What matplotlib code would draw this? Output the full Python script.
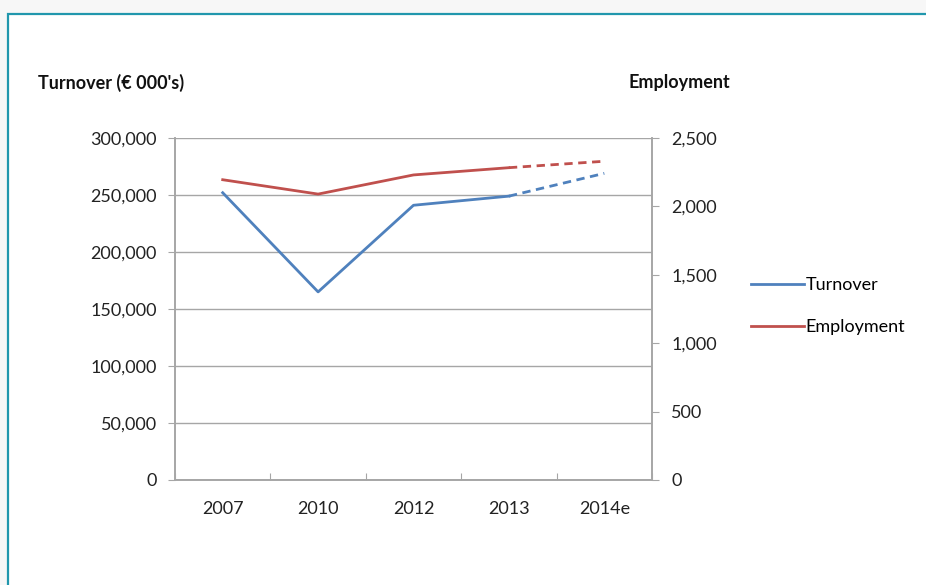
import matplotlib.pyplot as plt
from matplotlib.patches import Rectangle
from matplotlib.lines import Line2D
import numpy as np

years = ["2007", "2010", "2012", "2013", "2014e"]
turnover = [252000, 165000, 241000, 249000, 269000]
employment = [2195, 2090, 2230, 2283, 2330]

BLUE = "#4F81BD"
RED = "#C0504D"
GRID = "#A6A6A6"
FS = 13

plt.rcParams['font.family'] = ['Lato', 'DejaVu Sans']

fig = plt.figure(figsize=(9.26, 5.85), dpi=100)
fig.patch.set_facecolor("#f7f7f7")

# white panel with teal frame
panel = Rectangle((8 / 926, -0.1), 1.1, (585 - 14) / 585 + 0.1, transform=fig.transFigure,
                  facecolor="white", edgecolor="#2197ad", linewidth=1.6, zorder=-5)
fig.patches.append(panel)

ax = fig.add_axes([175 / 926, 105 / 585, 477 / 926, 342 / 585])
ax2 = ax.twinx()
ax.set_facecolor("none")
ax2.set_facecolor("none")

x = np.arange(len(years))

# solid up to 2013, dashed estimate to 2014e
ax.plot(x[:4], turnover[:4], color=BLUE, linewidth=2)
ax.plot(x[3:], turnover[3:], color=BLUE, linewidth=2, linestyle=(0, (3, 2)))
ax2.plot(x[:4], employment[:4], color=RED, linewidth=2)
ax2.plot(x[3:], employment[3:], color=RED, linewidth=2, linestyle=(0, (3, 2)))

ax.set_xlim(-0.5, len(years) - 0.5)
ax.set_ylim(0, 300000)
ax2.set_ylim(0, 2500)

ax.set_yticks(np.arange(0, 300001, 50000))
ax.set_yticklabels([f"{v:,}" for v in range(0, 300001, 50000)])
ax2.set_yticks(np.arange(0, 2501, 500))
ax2.set_yticklabels([f"{v:,}" for v in range(0, 2501, 500)])

# category labels centered, ticks between categories
ax.set_xticks(np.arange(-0.5, len(years)), minor=False)
ax.set_xticklabels([])
ax.set_xticks(x, minor=True)
ax.set_xticklabels(years, minor=True)
ax.tick_params(axis="x", which="minor", length=0, pad=15, labelsize=FS, colors="#222222")
ax.tick_params(axis="x", which="major", length=5, color=GRID, direction="in")

ax.yaxis.grid(True, color=GRID, linewidth=1)
ax.set_axisbelow(True)
ax.tick_params(axis="y", length=5, color=GRID, labelsize=FS, labelcolor="#222222", pad=8)
ax2.tick_params(axis="y", length=5, color=GRID, labelsize=FS, labelcolor="#222222", pad=9)

for a in (ax, ax2):
    a.spines["top"].set_visible(False)
    for s in ("left", "right", "bottom"):
        a.spines[s].set_color(GRID)
        a.spines[s].set_linewidth(1.2)

fig.text(38 / 926, 1 - 83 / 585, "Turnover (€ 000's)", fontsize=FS, fontweight="bold",
         va="center", ha="left", color="#111111")
fig.text(629 / 926, 1 - 83 / 585, "Employment", fontsize=FS, fontweight="bold",
         va="center", ha="left", color="#111111")

handles = [Line2D([], [], color=BLUE, linewidth=2), Line2D([], [], color=RED, linewidth=2)]
fig.legend(handles, ["Turnover", "Employment"], loc="upper left",
           bbox_to_anchor=(735 / 926, 1 - 261 / 585), frameon=False, fontsize=FS,
           handlelength=2.9, handletextpad=0.1, labelspacing=1.45)

fig.savefig("out.png", dpi=100, facecolor=fig.get_facecolor())
